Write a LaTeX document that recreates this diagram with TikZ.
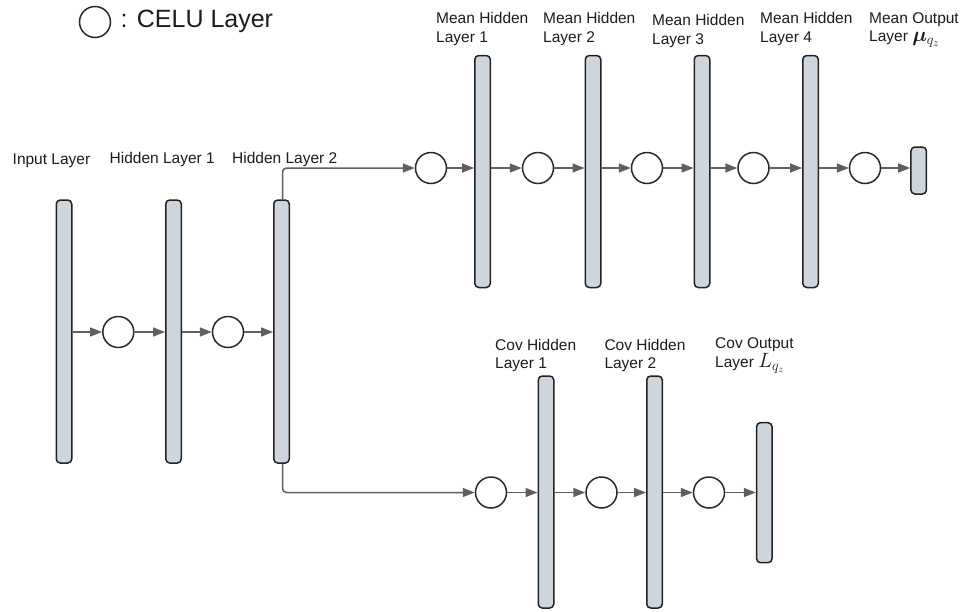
\documentclass[tikz,border=0pt]{standalone}
\usepackage{fontspec}
\setmainfont{Liberation Sans}
\usepackage{amsmath}
\usepackage{bm}
\usetikzlibrary{arrows.meta}
\definecolor{barfill}{HTML}{CED5DD}
\definecolor{barline}{HTML}{222222}
\definecolor{circline}{HTML}{2A2A2A}
\definecolor{arrowgray}{HTML}{5F5F5F}
\definecolor{labtext}{HTML}{1C1C1C}
\begin{document}
\begin{tikzpicture}[x=1pt,y=-1pt,
  bar/.style={draw=barline, fill=barfill, line width=1.5pt, rounded corners=4pt, minimum width=15.5pt, inner sep=0pt},
  celu/.style={circle, draw=circline, fill=white, line width=1.5pt, minimum size=31pt, inner sep=0pt},
  conn/.style={draw=arrowgray, line width=1.5pt, -{Triangle[length=12pt,width=9pt]}},
  lab/.style={anchor=base west, align=left, inner sep=0pt, font=\fontsize{15.5}{18.5}\selectfont, text=labtext}]
\fill[white] (0,0) rectangle (962,611);
\useasboundingbox (0,0) rectangle (962,611);

% legend
\node[celu] (leg) at (95,22) {};
\node[anchor=base west, inner sep=0pt, font=\fontsize{25}{25}\selectfont, text=labtext] (legtxt) at (120.5,27.3) {: CELU Layer};

% encoder bars
\node[bar, minimum height=263pt] (in) at (64,331.5) {};
\node[bar, minimum height=263pt] (h1) at (173.5,331.5) {};
\node[bar, minimum height=263pt] (h2) at (281.5,331.5) {};

% mean branch bars
\node[bar, minimum height=232pt] (m1) at (482.5,171.5) {};
\node[bar, minimum height=232pt] (m2) at (593,171.5) {};
\node[bar, minimum height=232pt] (m3) at (702,171.5) {};
\node[bar, minimum height=232pt] (m4) at (810.5,171.5) {};
\node[bar, minimum height=47pt] (mo) at (918.7,170.5) {};

% cov branch bars
\node[bar, minimum height=232pt] (c1) at (546,492) {};
\node[bar, minimum height=232pt] (c2) at (654.5,492) {};
\node[bar, minimum height=140pt] (co) at (764.3,492.7) {};

% CELU circles
\node[celu] (a1) at (118.3,332) {};
\node[celu] (a2) at (228,332) {};
\node[celu] (b1) at (431,168) {};
\node[celu] (b2) at (538,168) {};
\node[celu] (b3) at (647,168) {};
\node[celu] (b4) at (753.5,168) {};
\node[celu] (b5) at (865,168) {};
\node[celu] (d1) at (491,492.5) {};
\node[celu] (d2) at (601.5,492.5) {};
\node[celu] (d3) at (709,492.5) {};

% connectors: encoder
\draw[conn] (a1 -| in.east) -- (a1);
\draw[conn] (a1) -- (a1 -| h1.west);
\draw[conn] (a2 -| h1.east) -- (a2);
\draw[conn] (a2) -- (a2 -| h2.west);
\draw[conn, rounded corners=4pt] ([xshift=1pt]h2.north) |- (b1.west);
\draw[conn, rounded corners=4pt] ([xshift=1pt]h2.south) |- (d1.west);

% connectors: mean
\draw[conn] (b1) -- (b1 -| m1.west);
\draw[conn] (b2 -| m1.east) -- (b2);
\draw[conn] (b2) -- (b2 -| m2.west);
\draw[conn] (b3 -| m2.east) -- (b3);
\draw[conn] (b3) -- (b3 -| m3.west);
\draw[conn] (b4 -| m3.east) -- (b4);
\draw[conn] (b4) -- (b4 -| m4.west);
\draw[conn] (b5 -| m4.east) -- (b5);
\draw[conn] (b5) -- (b5 -| mo.west);

% connectors: cov
\draw[conn] (d1) -- (d1 -| c1.west);
\draw[conn] (d2 -| c1.east) -- (d2);
\draw[conn] (d2) -- (d2 -| c2.west);
\draw[conn] (d3 -| c2.east) -- (d3);
\draw[conn] (d3) -- (d3 -| co.west);

% labels (anchor = baseline of last line)
\node[lab] (lin) at (12.5,164) {Input Layer};
\node[lab] (lh1) at (109.5,163.5) {Hidden Layer 1};
\node[lab] (lh2) at (232,163) {Hidden Layer 2};
\node[lab] (lm1) at (436,42) {Mean Hidden\\Layer 1};
\node[lab] (lm2) at (543,42) {Mean Hidden\\Layer 2};
\node[lab] (lm3) at (652,44) {Mean Hidden\\Layer 3};
\node[lab] (lm4) at (760,42) {Mean Hidden\\Layer 4};
\node[lab] (lmo) at (869,41.5) {Mean Output\\Layer {\fontsize{21}{21}\selectfont$\bm{\mu}_{q_z}$}};
\node[lab] (lc1) at (495,368.5) {Cov Hidden\\Layer 1};
\node[lab] (lc2) at (604.3,368.5) {Cov Hidden\\Layer 2};
\node[lab] (lco) at (715,367) {Cov Output\\Layer {\fontsize{20}{20}\selectfont$L_{q_z}$}};
\end{tikzpicture}
\end{document}
